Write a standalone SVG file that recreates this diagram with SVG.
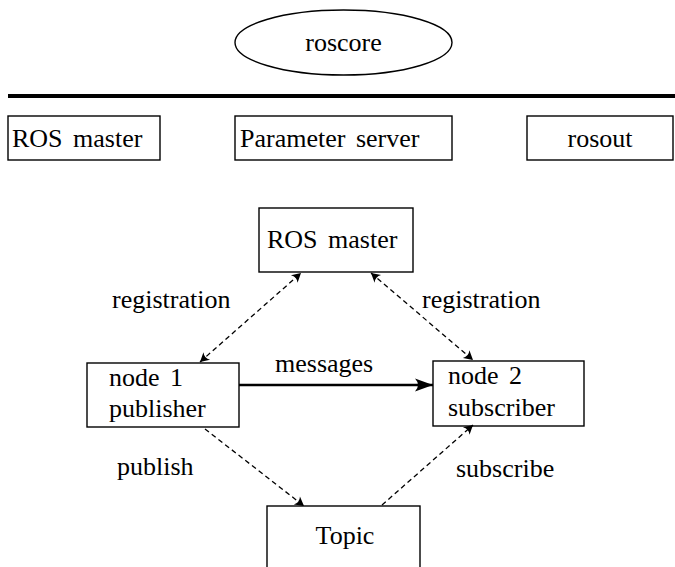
<svg xmlns="http://www.w3.org/2000/svg" width="675" height="567" viewBox="0 0 675 567">
  <style>
    .box { fill: #fff; stroke: #000; stroke-width: 1.4; }
    .lbl { font-size: 26px; fill: #000; word-spacing: 4px; }
    .dash { fill: none; stroke: #000; stroke-width: 1.3; stroke-dasharray: 5 3.5; }
    .solid { fill: none; stroke: #000; stroke-width: 2.6; }
  </style>
  <defs>
    <marker id="tip" viewBox="-10 -6 12 12" refX="0" refY="0" markerWidth="12" markerHeight="12" markerUnits="userSpaceOnUse" orient="auto-start-reverse">
      <path d="M0,0 L-9,-5 Q-5.5,0 -9,5 Z" fill="#000"/>
    </marker>
    <marker id="bigtip" viewBox="-20 -8 22 16" refX="0" refY="0" markerWidth="22" markerHeight="16" markerUnits="userSpaceOnUse" orient="auto">
      <path d="M0,0 L-18,-6.5 Q-12,0 -18,6.5 Z" fill="#000"/>
    </marker>
  </defs>

  <g font-family="Liberation Serif, DejaVu Serif, serif">
  <!-- roscore and its services -->
  <g id="roscore">
    <ellipse cx="343.5" cy="42.5" rx="108.5" ry="32.5" class="box"/>
    <text x="343.5" y="51" class="lbl" text-anchor="middle">roscore</text>
  </g>
  <rect x="8" y="94" width="667" height="4" fill="#000"/>
  <g id="core-master">
    <rect x="8" y="116" width="152" height="44" class="box"/>
    <text x="12" y="147" class="lbl">ROS master</text>
  </g>
  <g id="param-server">
    <rect x="235" y="116" width="217" height="44" class="box"/>
    <text x="240" y="147" class="lbl">Parameter server</text>
  </g>
  <g id="rosout">
    <rect x="527" y="116" width="146" height="44" class="box"/>
    <text x="600" y="147" class="lbl" text-anchor="middle">rosout</text>
  </g>

  <!-- communication graph -->
  <g id="master">
    <rect x="259" y="208" width="154" height="64" class="box"/>
    <text x="267" y="248" class="lbl">ROS master</text>
  </g>
  <g id="node1">
    <rect x="87" y="363" width="152" height="64" class="box"/>
    <text x="109" y="386" class="lbl">node 1</text>
    <text x="109" y="417" class="lbl">publisher</text>
  </g>
  <g id="node2">
    <rect x="433" y="361" width="151" height="65" class="box"/>
    <text x="448" y="384" class="lbl">node 2</text>
    <text x="448" y="416" class="lbl">subscriber</text>
  </g>
  <g id="topic">
    <rect x="267" y="506" width="153" height="80" class="box"/>
    <text x="345" y="544" class="lbl" text-anchor="middle">Topic</text>
  </g>

  <g id="connectors">
    <line x1="200" y1="362" x2="301" y2="273" class="dash" marker-start="url(#tip)" marker-end="url(#tip)"/>
    <line x1="371" y1="273" x2="473" y2="360" class="dash" marker-start="url(#tip)" marker-end="url(#tip)"/>
    <line x1="239" y1="385" x2="433" y2="385" class="solid" marker-end="url(#bigtip)"/>
    <line x1="205" y1="429" x2="304" y2="506" class="dash" marker-end="url(#tip)"/>
    <line x1="382" y1="505" x2="473" y2="425" class="dash" marker-end="url(#tip)"/>
  </g>

  <g id="labels">
    <text x="112" y="308" class="lbl">registration</text>
    <text x="422" y="308" class="lbl">registration</text>
    <text x="275" y="372" class="lbl">messages</text>
    <text x="117" y="475" class="lbl">publish</text>
    <text x="456" y="477" class="lbl">subscribe</text>
  </g>
  </g>
</svg>
